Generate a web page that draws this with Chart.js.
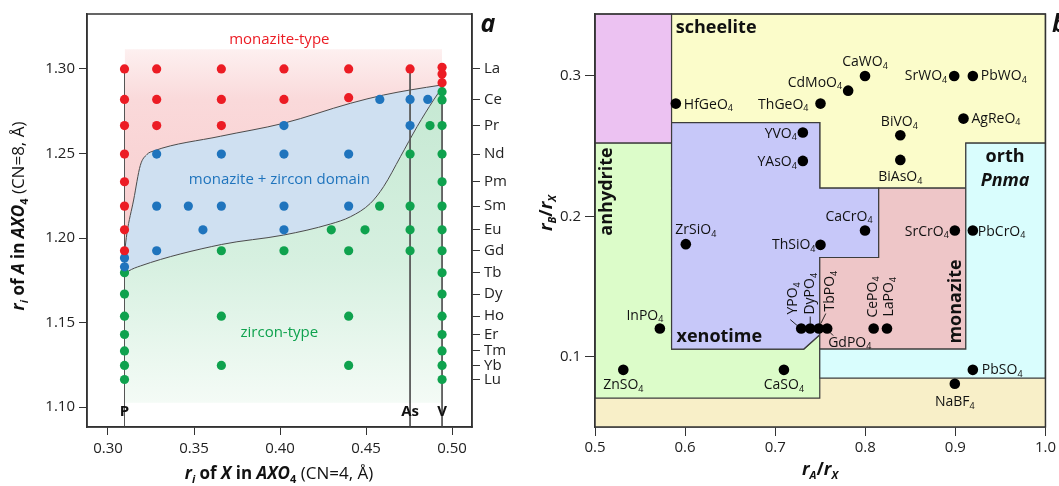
<!DOCTYPE html>
<html>
<head>
<meta charset="utf-8">
<script src="https://cdn.jsdelivr.net/npm/chart.js@4.4.1/dist/chart.umd.min.js"></script>
<style>
  html, body { margin: 0; padding: 0; background: #fff; }
  #wrap { position: relative; width: 1059px; height: 486px; overflow: hidden; }
  .panel { position: absolute; top: 0; height: 486px; }
</style>
</head>
<body>
<div id="wrap">
  <div class="panel" style="left:0;width:530px"><canvas id="chartA"></canvas></div>
  <div class="panel" style="left:530px;width:529px"><canvas id="chartB"></canvas></div>
</div>
<script>
const FONT = '"Open Sans", "Noto Sans", sans-serif';

// ---------- panel a : ionic radii of A vs X ----------
const xTicksA = [0.30, 0.35, 0.40, 0.45, 0.50];
const yTicksA = [1.10, 1.15, 1.20, 1.25, 1.30];
const lnLabels = ['La', 'Ce', 'Pr', 'Nd', 'Pm', 'Sm', 'Eu', 'Gd', 'Tb', 'Dy', 'Ho', 'Er', 'Tm', 'Yb', 'Lu'];
const lnRadii = [1.300, 1.282, 1.2665, 1.2497, 1.2333, 1.2189, 1.2049, 1.1925, 1.1795, 1.1669, 1.1538, 1.1430, 1.1333, 1.1247, 1.1164];

const xLineNames = ['P', 'As', 'V'];
const xLineRadii = [0.3096, 0.4756, 0.4942];
const xLineTop = [1.300, 1.300, 1.301];

// monazite-type compounds (red)
const monazitePts = [
  [0.3096, 1.300], [0.3096, 1.282], [0.3096, 1.2665], [0.3096, 1.2497], [0.3096, 1.2333],
  [0.3096, 1.2189], [0.3096, 1.2049], [0.3096, 1.1925],
  [0.3283, 1.300], [0.3283, 1.282], [0.3283, 1.2665],
  [0.3659, 1.300], [0.3659, 1.282], [0.3659, 1.2665],
  [0.4023, 1.300], [0.4023, 1.282],
  [0.4399, 1.300], [0.4399, 1.283],
  [0.4756, 1.300],
  [0.4942, 1.301], [0.4942, 1.297], [0.4942, 1.2919]
];
// monazite + zircon (blue)
const mixedPts = [
  [0.3096, 1.1883], [0.3096, 1.1830],
  [0.3283, 1.2497], [0.3283, 1.2189], [0.3283, 1.1925],
  [0.3467, 1.2189], [0.3552, 1.2049],
  [0.3659, 1.2497], [0.3659, 1.2189],
  [0.4023, 1.2665], [0.4023, 1.2497], [0.4023, 1.2189], [0.4023, 1.2049],
  [0.4399, 1.2497], [0.4399, 1.2189],
  [0.4580, 1.282],
  [0.4756, 1.282], [0.4756, 1.2665],
  [0.4859, 1.282]
];
// zircon-type (green)
const zirconPts = [
  [0.3096, 1.1795], [0.3096, 1.1669], [0.3096, 1.1538], [0.3096, 1.1430], [0.3096, 1.1333],
  [0.3096, 1.1247], [0.3096, 1.1164],
  [0.3659, 1.1925], [0.3659, 1.1538], [0.3659, 1.1247],
  [0.4023, 1.1925],
  [0.4298, 1.2049],
  [0.4399, 1.1925], [0.4399, 1.1538], [0.4399, 1.1247],
  [0.4494, 1.2049], [0.4579, 1.2189], [0.4872, 1.2665],
  [0.4756, 1.2497], [0.4756, 1.2189], [0.4756, 1.2049], [0.4756, 1.1925],
  [0.4942, 1.2866], [0.4942, 1.2817], [0.4942, 1.2665], [0.4942, 1.2497], [0.4942, 1.2333],
  [0.4942, 1.2189], [0.4942, 1.2049], [0.4942, 1.1925], [0.4942, 1.1795], [0.4942, 1.1669],
  [0.4942, 1.1538], [0.4942, 1.1430], [0.4942, 1.1333], [0.4942, 1.1247], [0.4942, 1.1164]
];

// domain boundaries
const upperEdge = [
  [0.3097, 1.1920], [0.3110, 1.2028], [0.3149, 1.2225], [0.3188, 1.2430], [0.3227, 1.2495],
  [0.3265, 1.2515], [0.3653, 1.2602], [0.4021, 1.2679], [0.4409, 1.2797], [0.4602, 1.2846],
  [0.4758, 1.2876], [0.4944, 1.2906]
];
const lowerEdge = [
  [0.3097, 1.1785], [0.3120, 1.1805], [0.3188, 1.1835], [0.3659, 1.1962], [0.4021, 1.2018],
  [0.4292, 1.2083], [0.4409, 1.2126], [0.4525, 1.2205], [0.4602, 1.2304], [0.4700, 1.2481],
  [0.4797, 1.2659], [0.4893, 1.2817], [0.4944, 1.2892]
];
const domainTop = 1.3117;
const domainBottom = 1.1027;

// ---------- panel b : radius-ratio map ----------
const compoundNames = [
  'HfGeO4', 'ThGeO4', 'CdMoO4', 'CaWO4', 'SrWO4', 'PbWO4', 'AgReO4', 'BiVO4', 'BiAsO4',
  'YVO4', 'YAsO4', 'CaCrO4', 'SrCrO4', 'PbCrO4', 'ZrSiO4', 'ThSiO4', 'InPO4',
  'YPO4', 'DyPO4', 'TbPO4', 'GdPO4', 'CePO4', 'LaPO4', 'ZnSO4', 'CaSO4', 'PbSO4', 'NaBF4'
];
const ratioAX = [
  0.5897, 0.7503, 0.7810, 0.7997, 0.8987, 0.9194, 0.9090, 0.8389, 0.8389,
  0.7307, 0.7307, 0.7997, 0.8994, 0.9194, 0.6008, 0.7503, 0.5720,
  0.7289, 0.7389, 0.7484, 0.7577, 0.8093, 0.8241, 0.5314, 0.7097, 0.9194, 0.8994
];
const ratioBX = [
  0.2803, 0.2803, 0.2895, 0.3000, 0.3000, 0.3000, 0.2696, 0.2578, 0.2402,
  0.2597, 0.2395, 0.1899, 0.1899, 0.1899, 0.1802, 0.1797, 0.1201,
  0.1201, 0.1201, 0.1201, 0.1201, 0.1201, 0.1201, 0.0907, 0.0907, 0.0907, 0.0808
];
const xTicksB = [0.5, 0.6, 0.7, 0.8, 0.9, 1.0];
const yTicksB = [0.1, 0.2, 0.3];

// structure fields (vertices in rA/rX, rB/rX)
const baseField = [[0.5, 0.05], [1.0, 0.05], [1.0, 0.3441], [0.5, 0.3441]];
const topLeftField = [[0.5, 0.2521], [0.585, 0.2521], [0.585, 0.3441], [0.5, 0.3441]];
const scheeliteField = [[0.585, 0.2668], [0.7495, 0.2668], [0.7495, 0.2201], [0.9116, 0.2201], [0.9116, 0.2521], [1.0, 0.2521], [1.0, 0.3441], [0.585, 0.3441]];
const anhydriteField = [[0.5, 0.0706], [0.7495, 0.0706], [0.7495, 0.1157], [0.7318, 0.1055], [0.585, 0.1055], [0.585, 0.2521], [0.5, 0.2521]];
const xenotimeField = [[0.585, 0.1055], [0.7318, 0.1055], [0.7495, 0.1157], [0.7495, 0.1707], [0.8149, 0.1707], [0.8149, 0.2201], [0.7495, 0.2201], [0.7495, 0.2668], [0.585, 0.2668]];
const monaziteField = [[0.7495, 0.1055], [0.9116, 0.1055], [0.9116, 0.2201], [0.8149, 0.2201], [0.8149, 0.1707], [0.7495, 0.1707]];
const orthField = [[0.7495, 0.0848], [1.0, 0.0848], [1.0, 0.2521], [0.9116, 0.2521], [0.9116, 0.1055], [0.7495, 0.1055]];

// ---------- styles ----------
const RED = '#ec1c24', BLUE = '#1f74bd', GREEN = '#0fa24e', AXIS = '#333';

const fieldStyles = [
  [baseField, '#f8efc8'], [topLeftField, '#ecc2f2'], [scheeliteField, '#fbfcca'],
  [anhydriteField, '#dcfcc9'], [xenotimeField, '#c7c8f9'], [monaziteField, '#eec6c8'], [orthField, '#d9fdfd']
];

const labelPlace = {
  HfGeO4: { dx: 8, dy: 1, align: 'left' },
  ThGeO4: { dx: -12, dy: 1, align: 'right' },
  CdMoO4: { dx: -6, dy: -8, align: 'right' },
  CaWO4: { dx: 0, dy: -14, align: 'center' },
  SrWO4: { dx: -7, dy: 0, align: 'right' },
  PbWO4: { dx: 8, dy: 0, align: 'left' },
  AgReO4: { dx: 8, dy: 0, align: 'left' },
  BiVO4: { dx: -1, dy: -13, align: 'center' },
  BiAsO4: { dx: 0, dy: 17, align: 'center' },
  YVO4: { dx: -6, dy: 1, align: 'right' },
  YAsO4: { dx: -6, dy: 1, align: 'right' },
  CaCrO4: { dx: -16, dy: -14, align: 'center' },
  SrCrO4: { dx: -6, dy: 1, align: 'right' },
  PbCrO4: { dx: 5, dy: 1, align: 'left' },
  ZrSiO4: { dx: 10, dy: -14, align: 'center' },
  ThSiO4: { dx: -5, dy: 0, align: 'right' },
  InPO4: { dx: -15, dy: -13, align: 'center' },
  YPO4: { dx: -8, dy: -14, rot: true, lead: [-11, -9, -4, -3] },
  DyPO4: { dx: 0, dy: -14, rot: true, lead: [0, -12, 0, -5] },
  TbPO4: { dx: 11, dy: -17, rot: true, lead: [7, -15, 2, -5] },
  GdPO4: { dx: 1, dy: 14, align: 'left', lead: [3, 4, 6, 7] },
  CePO4: { dx: -1, dy: -11, rot: true },
  LaPO4: { dx: 2, dy: -12, rot: true },
  ZnSO4: { dx: 0, dy: 15, align: 'center' },
  CaSO4: { dx: 0, dy: 15, align: 'center' },
  PbSO4: { dx: 9, dy: 0, align: 'left' },
  NaBF4: { dx: 0, dy: 18, align: 'center' }
};

// ---------- text helpers ----------
function drawRich(ctx, runs, x, y, align) {
  let w = 0;
  runs.forEach(r => { ctx.font = r.font; r.w = ctx.measureText(r.t).width; w += r.w; });
  let cx = align === 'center' ? x - w / 2 : align === 'right' ? x - w : x;
  ctx.textAlign = 'left';
  ctx.textBaseline = 'middle';
  runs.forEach(r => {
    ctx.font = r.font;
    ctx.fillText(r.t, cx, y + (r.dy || 0));
    cx += r.w;
  });
}

function formulaRuns(name, size, weight) {
  const runs = [];
  name.split(/(\d+)/).forEach(part => {
    if (!part) return;
    if (/^\d+$/.test(part)) runs.push({ t: part, font: `${weight || ''} ${Math.round(size * 0.62)}px ${FONT}`, dy: size * 0.3 });
    else runs.push({ t: part, font: `${weight || ''} ${size}px ${FONT}` });
  });
  return runs;
}

function titleRuns(parts, size) {
  // style codes: 'bi' bold italic, 'b' bold, 'r' regular, leading 's' = subscript
  return parts.map(([t, s]) => {
    const sub = s.startsWith('s');
    const px = sub ? Math.round(size * 0.62) : size;
    const st = s.replace(/^s/, '');
    const f = (st.includes('i') ? 'italic ' : '') + (st.includes('b') ? 'bold ' : '');
    return { t, font: `${f}${px}px ${FONT}`, dy: sub ? size * 0.32 : 0 };
  });
}

function fixedTicks(values) {
  return s => { s.ticks = values.map(v => ({ value: v })); };
}

function axisBase(extra) {
  return Object.assign({
    type: 'linear',
    grid: { drawOnChartArea: false, tickLength: 8, color: AXIS, lineWidth: 1 },
    border: { display: true, color: AXIS, width: 1.5 },
    ticks: { color: '#222', font: { family: FONT, size: 15 }, padding: 4, autoSkip: false, maxRotation: 0 }
  }, extra);
}

const toXY = pts => pts.map(([x, y]) => ({ x, y }));

// ---------- panel a ----------
function fillGradient(stops, yFrom, yTo) {
  return c => {
    const chart = c.chart;
    const ys = chart.scales.y;
    if (!chart.chartArea || !ys) return stops[0][1];
    const g = chart.ctx.createLinearGradient(0, ys.getPixelForValue(yFrom), 0, ys.getPixelForValue(yTo));
    stops.forEach(([o, col]) => g.addColorStop(o, col));
    return g;
  };
}

const panelALabels = {
  id: 'panelALabels',
  afterDraw(chart) {
    const { ctx, chartArea: a, scales: { x, y } } = chart;
    ctx.save();
    ctx.strokeStyle = AXIS;
    ctx.lineWidth = 1.5;
    ctx.strokeRect(a.left, a.top, a.right - a.left, a.bottom - a.top);

    ctx.textAlign = 'center';
    ctx.textBaseline = 'middle';
    ctx.font = `15px ${FONT}`;
    ctx.fillStyle = RED;
    ctx.fillText('monazite-type', x.getPixelForValue(0.3996), y.getPixelForValue(1.3172));
    ctx.fillStyle = BLUE;
    ctx.fillText('monazite + zircon domain', x.getPixelForValue(0.3996), y.getPixelForValue(1.2343));
    ctx.fillStyle = GREEN;
    ctx.fillText('zircon-type', x.getPixelForValue(0.3996), y.getPixelForValue(1.1438));

    ctx.fillStyle = '#111';
    ctx.font = `bold 15px ${FONT}`;
    xLineNames.forEach((n, i) => {
      ctx.fillText(n, x.getPixelForValue(xLineRadii[i]), y.getPixelForValue(1.0972));
    });

    ctx.font = `italic bold 25px ${FONT}`;
    ctx.fillText('a', 488, 25);

    ctx.fillStyle = '#111';
    drawRich(ctx, titleRuns([
      ['r', 'bi'], ['i', 'sbi'], [' of ', 'b'], ['X', 'bi'], [' in ', 'b'], ['AXO', 'bi'], ['4', 'sb'], [' (CN=4, Å)', 'r']
    ], 17), 279, 474, 'center');

    ctx.translate(19, 216);
    ctx.rotate(-Math.PI / 2);
    drawRich(ctx, titleRuns([
      ['r', 'bi'], ['i', 'sbi'], [' of ', 'b'], ['A', 'bi'], [' in ', 'b'], ['AXO', 'bi'], ['4', 'sb'], [' (CN=8, Å)', 'r']
    ], 17), 0, 0, 'center');
    ctx.restore();
  }
};

const pointStyle = color => ({ backgroundColor: color, borderWidth: 0, pointRadius: 4.6, pointHoverRadius: 4.6, order: 0 });

const domainLine = (pts, fill, bg, width) => ({
  type: 'line', data: toXY(pts), borderColor: '#4a4a4a', borderWidth: width, pointRadius: 0,
  cubicInterpolationMode: 'monotone', fill, backgroundColor: bg, order: 3
});

new Chart(document.getElementById('chartA'), {
  type: 'scatter',
  data: {
    datasets: [
      domainLine([[xLineRadii[0], domainTop], [xLineRadii[2], domainTop]], false, 'rgba(0,0,0,0)', 0),
      domainLine(upperEdge, '-1', fillGradient([[0, '#fdf0f0'], [0.25, '#fad9da'], [1, '#f7cccd']], domainTop, 1.19), 1),
      domainLine(lowerEdge, '-1', '#cfe0f1', 1),
      domainLine([[xLineRadii[0], domainBottom], [xLineRadii[2], domainBottom]], '-1',
        fillGradient([[0, '#c5e8d2'], [0.55, '#d6f0e0'], [1, '#f4fbf6']], 1.29, domainBottom), 0),
      ...xLineNames.map((n, i) => ({
        type: 'line', data: [{ x: xLineRadii[i], y: xLineTop[i] }, { x: xLineRadii[i], y: 1.0883 }],
        borderColor: '#555', borderWidth: 1, pointRadius: 0, fill: false, order: 2
      })),
      Object.assign({ label: 'monazite', data: toXY(monazitePts) }, pointStyle(RED)),
      Object.assign({ label: 'mixed', data: toXY(mixedPts) }, pointStyle(BLUE)),
      Object.assign({ label: 'zircon', data: toXY(zirconPts) }, pointStyle(GREEN))
    ]
  },
  options: {
    responsive: true,
    maintainAspectRatio: false,
    animation: false,
    events: [],
    layout: { padding: { top: 14, right: 0, bottom: 0, left: 0 } },
    plugins: { legend: { display: false }, tooltip: { enabled: false }, filler: { drawTime: 'beforeDatasetsDraw' } },
    scales: {
      x: axisBase({
        min: 0.2878, max: 0.5116,
        afterBuildTicks: fixedTicks(xTicksA),
        afterFit: s => { s.height = 59; },
        ticks: Object.assign(axisBase().ticks, { callback: v => v.toFixed(2), padding: 5 })
      }),
      y: axisBase({
        position: 'left', min: 1.0883, max: 1.3325,
        afterBuildTicks: fixedTicks(yTicksA),
        afterFit: s => { s.width = 87; },
        ticks: Object.assign(axisBase().ticks, { callback: v => v.toFixed(2) })
      }),
      y2: axisBase({
        position: 'right', min: 1.0883, max: 1.3325,
        afterBuildTicks: fixedTicks(lnRadii),
        afterFit: s => { s.width = 58; },
        ticks: Object.assign(axisBase().ticks, { callback: (v, i) => lnLabels[i] })
      })
    }
  },
  plugins: [panelALabels]
});

// ---------- panel b ----------
const panelBDecor = {
  id: 'panelBDecor',
  beforeDatasetsDraw(chart) {
    const { ctx, scales: { x, y } } = chart;
    ctx.save();
    ctx.strokeStyle = '#3c3c3c';
    ctx.lineWidth = 1.2;
    fieldStyles.forEach(([poly, color], i) => {
      ctx.beginPath();
      poly.forEach(([vx, vy], k) => {
        const px = x.getPixelForValue(vx), py = y.getPixelForValue(vy);
        if (k === 0) ctx.moveTo(px, py); else ctx.lineTo(px, py);
      });
      ctx.closePath();
      ctx.fillStyle = color;
      ctx.fill();
      if (i > 0) ctx.stroke();
    });

    // field names
    ctx.fillStyle = '#111';
    ctx.textAlign = 'left';
    ctx.textBaseline = 'middle';
    ctx.font = `bold 18px ${FONT}`;
    ctx.fillText('scheelite', x.getPixelForValue(0.5897), y.getPixelForValue(0.3342));
    ctx.fillText('xenotime', x.getPixelForValue(0.5905), y.getPixelForValue(0.1140));
    ctx.textAlign = 'center';
    ctx.fillText('orth', x.getPixelForValue(0.9552), y.getPixelForValue(0.2424));
    ctx.font = `italic bold 18px ${FONT}`;
    ctx.fillText('Pnma', x.getPixelForValue(0.9552), y.getPixelForValue(0.2253));
    ctx.font = `bold 18px ${FONT}`;
    [['anhydrite', 0.5133, 0.2177], ['monazite', 0.9006, 0.1394]].forEach(([t, vx, vy]) => {
      ctx.save();
      ctx.translate(x.getPixelForValue(vx), y.getPixelForValue(vy));
      ctx.rotate(-Math.PI / 2);
      ctx.fillText(t, 0, 0);
      ctx.restore();
    });
    ctx.restore();
  },
  afterDatasetsDraw(chart) {
    const { ctx, chartArea: a, scales: { x, y } } = chart;
    ctx.save();
    ctx.fillStyle = '#111';
    ctx.strokeStyle = '#111';
    ctx.lineWidth = 0.9;
    compoundNames.forEach((name, i) => {
      const p = labelPlace[name];
      const px = x.getPixelForValue(ratioAX[i]), py = y.getPixelForValue(ratioBX[i]);
      if (p.lead) {
        ctx.beginPath();
        ctx.moveTo(px + p.lead[0], py + p.lead[1]);
        ctx.lineTo(px + p.lead[2], py + p.lead[3]);
        ctx.stroke();
      }
      const runs = formulaRuns(name, 14);
      if (p.rot) {
        ctx.save();
        ctx.translate(px + p.dx, py + p.dy);
        ctx.rotate(-Math.PI / 2);
        drawRich(ctx, runs, 0, 0, 'left');
        ctx.restore();
      } else {
        drawRich(ctx, runs, px + p.dx, py + p.dy, p.align);
      }
    });

    ctx.strokeStyle = AXIS;
    ctx.lineWidth = 1.5;
    ctx.strokeRect(a.left, a.top, a.right - a.left, a.bottom - a.top);
    ctx.restore();
  },
  afterDraw(chart) {
    const { ctx } = chart;
    ctx.save();
    ctx.fillStyle = '#111';
    drawRich(ctx, titleRuns([['r', 'bi'], ['A', 'sbi'], ['/', 'b'], ['r', 'bi'], ['X', 'sbi']], 18), 290, 470, 'center');
    ctx.translate(17, 213);
    ctx.rotate(-Math.PI / 2);
    drawRich(ctx, titleRuns([['r', 'bi'], ['B', 'sbi'], ['/', 'b'], ['r', 'bi'], ['X', 'sbi']], 18), 0, 0, 'center');
    ctx.restore();
    ctx.save();
    ctx.fillStyle = '#111';
    ctx.font = `italic bold 25px ${FONT}`;
    ctx.textBaseline = 'middle';
    ctx.fillText('b', 522, 25);
    ctx.restore();
  }
};

new Chart(document.getElementById('chartB'), {
  type: 'scatter',
  data: {
    datasets: [{
      label: 'compounds',
      data: compoundNames.map((n, i) => ({ x: ratioAX[i], y: ratioBX[i] })),
      backgroundColor: '#000', borderWidth: 0, pointRadius: 5.3, pointHoverRadius: 5.3
    }]
  },
  options: {
    responsive: true,
    maintainAspectRatio: false,
    animation: false,
    events: [],
    layout: { padding: { top: 14, right: 13, bottom: 0, left: 0 } },
    plugins: { legend: { display: false }, tooltip: { enabled: false } },
    scales: {
      x: axisBase({
        min: 0.5, max: 1.0,
        grid: { drawOnChartArea: false, tickLength: 9, color: AXIS, lineWidth: 1 },
        afterBuildTicks: fixedTicks(xTicksB),
        afterFit: s => { s.height = 59; },
        ticks: Object.assign(axisBase().ticks, { callback: v => v.toFixed(1), padding: 3 })
      }),
      y: axisBase({
        min: 0.05, max: 0.3441,
        grid: { drawOnChartArea: false, tickLength: 10, color: AXIS, lineWidth: 1 },
        afterBuildTicks: fixedTicks(yTicksB),
        afterFit: s => { s.width = 65; },
        ticks: Object.assign(axisBase().ticks, { callback: v => v.toFixed(1) })
      })
    }
  },
  plugins: [panelBDecor]
});
</script>
</body>
</html>
